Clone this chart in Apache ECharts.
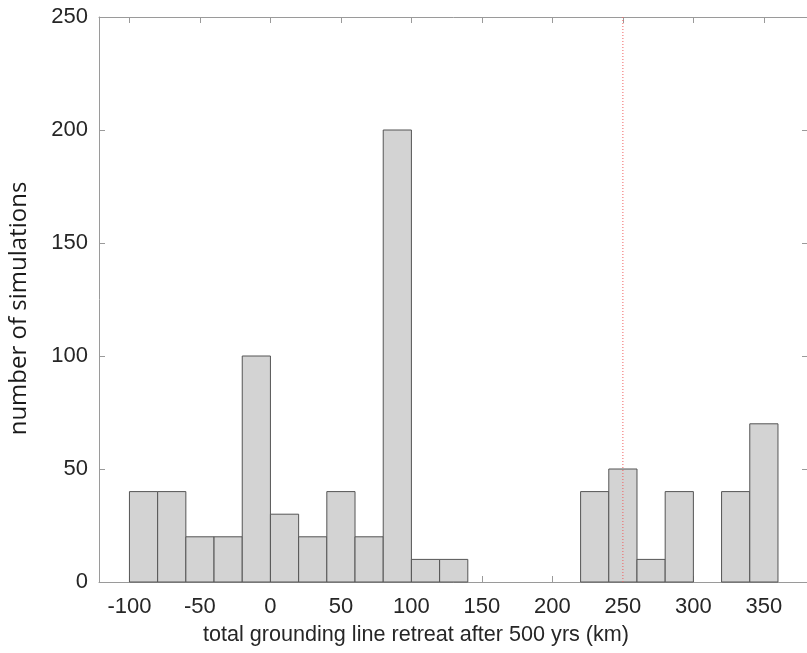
<!DOCTYPE html>
<html>
<head>
<meta charset="utf-8">
<script src="https://cdn.jsdelivr.net/npm/echarts@6/dist/echarts.min.js"></script>
<style>
  html, body { margin: 0; padding: 0; background: #fff; }
  #main { width: 807px; height: 653px; }
</style>
</head>
<body>
<div id="main"></div>
<script>
// histogram bins, width 20 km
var binStart = [-100, -80, -60, -40, -20, 0, 20, 40, 60, 80, 100, 120, 220, 240, 260, 280, 320, 340];
var binEnd   = [-80, -60, -40, -20, 0, 20, 40, 60, 80, 100, 120, 140, 240, 260, 280, 300, 340, 360];
var counts   = [40, 40, 20, 20, 100, 30, 20, 40, 20, 200, 10, 10, 40, 50, 10, 40, 40, 70];
var yTicks = [0, 50, 100, 150, 200, 250];
var refLineX = 250;

var chart = echarts.init(document.getElementById('main'));

var bins = [];
for (var i = 0; i < counts.length; i++) {
    bins.push([binStart[i], binEnd[i], counts[i]]);
}

var axisColor = '#9a9a9a';
var labelColor = '#262626';
var tickFont = 'Liberation Sans';

function xLabel(v) {
    return v % 50 === 0 ? String(v) : '';
}

function boxAxis(pos, extra) {
    var ax = {
        type: 'value',
        position: pos,
        splitLine: { show: false },
        axisLine: { show: true, onZero: false, lineStyle: { color: axisColor, width: 1 } },
        axisTick: { show: true, inside: true, length: 6, lineStyle: { color: axisColor } },
        axisLabel: { show: false }
    };
    for (var k in extra) ax[k] = extra[k];
    return ax;
}

var xRange = { min: -121.6, max: 381.3, splitNumber: 10 };
var yRange = { min: yTicks[0], max: yTicks[yTicks.length - 1], interval: 50 };

var option = {
    animation: false,
    grid: { left: 99, right: -1, top: 17, bottom: 71, containLabel: false, outerBoundsMode: 'none' },
    xAxis: [
        boxAxis('bottom', {
            min: xRange.min, max: xRange.max, splitNumber: xRange.splitNumber,
            axisLabel: { formatter: xLabel, color: labelColor, fontFamily: tickFont, fontSize: 22, margin: 14 },
            name: 'total grounding line retreat after 500 yrs (km)',
            nameLocation: 'middle',
            nameGap: 42,
            nameTextStyle: { color: labelColor, fontFamily: tickFont, fontSize: 21.6, padding: [0, 75, 0, 0] }
        }),
        boxAxis('top', { min: xRange.min, max: xRange.max, splitNumber: xRange.splitNumber })
    ],
    yAxis: [
        boxAxis('left', {
            min: yRange.min, max: yRange.max, interval: yRange.interval,
            axisLabel: { color: labelColor, fontFamily: tickFont, fontSize: 22, margin: 11 },
            name: 'number of simulations',
            nameLocation: 'middle',
            nameGap: 68,
            nameTextStyle: { color: '#1a1a1a', fontFamily: 'Open Sans', fontSize: 24, padding: [0, 18, 0, 0] }
        }),
        boxAxis('right', { min: yRange.min, max: yRange.max, interval: yRange.interval })
    ],
    series: [{
        type: 'custom',
        xAxisIndex: 0,
        yAxisIndex: 0,
        data: bins,
        encode: { x: [0, 1], y: 2 },
        renderItem: function (params, api) {
            var p0 = api.coord([api.value(0), api.value(2)]);
            var p1 = api.coord([api.value(1), 0]);
            return {
                type: 'rect',
                shape: { x: p0[0], y: p0[1], width: p1[0] - p0[0], height: p1[1] - p0[1] },
                style: { fill: '#d3d3d3', stroke: '#555555', lineWidth: 1 }
            };
        },
        z: 2
    }, {
        // dotted reference line at 250 km
        type: 'line',
        xAxisIndex: 0,
        yAxisIndex: 0,
        data: [[refLineX, yRange.min], [refLineX, yRange.max]],
        showSymbol: false,
        symbol: 'none',
        silent: true,
        lineStyle: { color: '#f06060', type: [1, 2], width: 1 },
        z: 3
    }]
};

chart.setOption(option);
</script>
</body>
</html>
